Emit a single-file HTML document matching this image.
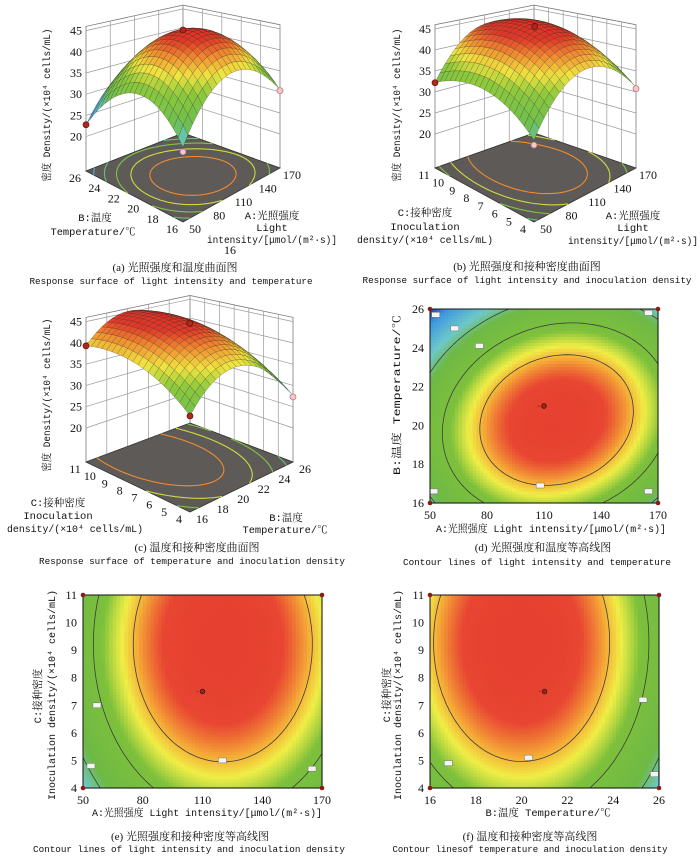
<!DOCTYPE html>
<html><head><meta charset="utf-8">
<style>
html,body{margin:0;padding:0;background:#fff;}
svg{display:block;}
.tk{font-family:"Liberation Serif","Noto Serif CJK SC",serif;font-size:12px;fill:#111;}
.ti{font-family:"Liberation Mono","Noto Serif CJK SC",monospace;font-size:10.5px;fill:#111;}
.cc{font-family:"Liberation Serif","Noto Serif CJK SC",serif;font-size:11px;fill:#111;}
.ce{font-family:"Liberation Mono","Noto Serif CJK SC",monospace;font-size:9.2px;fill:#111;}
</style></head>
<body>
<svg id="fig" width="700" height="857" viewBox="0 0 700 857" xmlns="http://www.w3.org/2000/svg">
<rect x="0" y="0" width="700" height="857" fill="#fff"/>

<text class="ti" x="50" y="105" text-anchor="middle" transform="rotate(-90 50 105)" textLength="153" lengthAdjust="spacingAndGlyphs">密度 Density/(×10⁴ cells/mL)</text>
<text class="ti" x="95" y="221" text-anchor="middle">B:温度</text>
<text class="ti" x="93" y="235" text-anchor="middle" textLength="85" lengthAdjust="spacingAndGlyphs">Temperature/℃</text>
<text class="ti" x="272" y="219" text-anchor="middle">A:光照强度</text>
<text class="ti" x="272" y="231" text-anchor="middle">Light</text>
<text class="ti" x="272" y="243" text-anchor="middle" textLength="130" lengthAdjust="spacingAndGlyphs">intensity/[μmol/(m²·s)]</text>
<text class="tk" x="230" y="254" text-anchor="middle">16</text>
<text class="cc" x="175" y="271" text-anchor="middle">(a) 光照强度和温度曲面图</text>
<text class="ce" x="171" y="284" text-anchor="middle" textLength="283" lengthAdjust="spacingAndGlyphs">Response surface of light intensity and temperature</text>

<text class="ti" x="400" y="105" text-anchor="middle" transform="rotate(-90 400 105)" textLength="153" lengthAdjust="spacingAndGlyphs">密度 Density/(×10⁴ cells/mL)</text>
<text class="ti" x="425" y="216" text-anchor="middle">C:接种密度</text>
<text class="ti" x="425" y="230" text-anchor="middle">Inoculation</text>
<text class="ti" x="425" y="243" text-anchor="middle" textLength="136" lengthAdjust="spacingAndGlyphs">density/(×10⁴ cells/mL)</text>
<text class="ti" x="633" y="219" text-anchor="middle">A:光照强度</text>
<text class="ti" x="633" y="231" text-anchor="middle">Light</text>
<text class="ti" x="633" y="244" text-anchor="middle" textLength="130" lengthAdjust="spacingAndGlyphs">intensity/[μmol/(m²·s)]</text>
<text class="cc" x="527" y="270" text-anchor="middle">(b) 光照强度和接种密度曲面图</text>
<text class="ce" x="527" y="283" text-anchor="middle" textLength="329" lengthAdjust="spacingAndGlyphs">Response surface of light intensity and inoculation density</text>

<text class="ti" x="50" y="395" text-anchor="middle" transform="rotate(-90 50 395)" textLength="153" lengthAdjust="spacingAndGlyphs">密度 Density/(×10⁴ cells/mL)</text>
<text class="ti" x="58" y="506" text-anchor="middle">C:接种密度</text>
<text class="ti" x="58" y="519" text-anchor="middle">Inoculation</text>
<text class="ti" x="75" y="532" text-anchor="middle" textLength="136" lengthAdjust="spacingAndGlyphs">density/(×10⁴ cells/mL)</text>
<text class="ti" x="286" y="521" text-anchor="middle">B:温度</text>
<text class="ti" x="285" y="533" text-anchor="middle" textLength="85" lengthAdjust="spacingAndGlyphs">Temperature/℃</text>
<text class="cc" x="197" y="551" text-anchor="middle">(c) 温度和接种密度曲面图</text>
<text class="ce" x="192" y="564" text-anchor="middle" textLength="306" lengthAdjust="spacingAndGlyphs">Response surface of temperature and inoculation density</text>

<text class="ti" x="400" y="395" text-anchor="middle" transform="rotate(-90 400 395)" textLength="160" lengthAdjust="spacingAndGlyphs">B:温度 Temperature/℃</text>
<text class="ti" x="551" y="532" text-anchor="middle" textLength="230" lengthAdjust="spacingAndGlyphs">A:光照强度 Light intensity/[μmol/(m²·s)]</text>
<text class="cc" x="543" y="551" text-anchor="middle">(d) 光照强度和温度等高线图</text>
<text class="ce" x="537" y="565" text-anchor="middle" textLength="268" lengthAdjust="spacingAndGlyphs">Contour lines of light intensity and temperature</text>

<text class="ti" x="41" y="696" text-anchor="middle" transform="rotate(-90 41 696)">C:接种密度</text>
<text class="ti" x="55" y="695" text-anchor="middle" transform="rotate(-90 55 695)" textLength="210" lengthAdjust="spacingAndGlyphs">Inoculation density/(×10⁴ cells/mL)</text>
<text class="ti" x="207" y="816" text-anchor="middle" textLength="230" lengthAdjust="spacingAndGlyphs">A:光照强度 Light intensity/[μmol/(m²·s)]</text>
<text class="cc" x="190" y="840" text-anchor="middle">(e) 光照强度和接种密度等高线图</text>
<text class="ce" x="189" y="852" text-anchor="middle" textLength="312" lengthAdjust="spacingAndGlyphs">Contour lines of light intensity and inoculation density</text>

<text class="ti" x="390" y="695" text-anchor="middle" transform="rotate(-90 390 695)">C:接种密度</text>
<text class="ti" x="401" y="695" text-anchor="middle" transform="rotate(-90 401 695)" textLength="210" lengthAdjust="spacingAndGlyphs">Inoculation density/(×10⁴ cells/mL)</text>
<text class="ti" x="548" y="816" text-anchor="middle" textLength="125" lengthAdjust="spacingAndGlyphs">B:温度 Temperature/℃</text>
<text class="cc" x="530" y="840" text-anchor="middle">(f) 温度和接种密度等高线图</text>
<text class="ce" x="530" y="852" text-anchor="middle" textLength="275" lengthAdjust="spacingAndGlyphs">Contour linesof temperature and inoculation density</text>
</svg>

<script>
// ---------- data ----------
const surfCoefA = [45.5, 1.125, -2.725, -0.525, -9.9, -9.5];
const surfCoefB = [46.2, 1.575, 2.125, 0.325, -9.6, -4.6];
const surfCoefC = [45.0, -2.575, 3.275, -0.575, -8.9, -3.2];
const contCoefD = [44.53, 2.886, -3.552, 3.0, -11.1, -11.1];
const contCoefE = [44.33, 3.332, 3.626, 0.0, -9.8, -3.7];
const contCoefF = [44.19, -3.72, 3.672, 0.0, -9.3, -3.6];
const floorLevels = [42, 38, 34, 30, 26];
const contourLevels = [40, 34, 27];
const zTicks = [20, 25, 30, 35, 40, 45];
const lightTicks = [50, 80, 110, 140, 170];
const tempTicks = [16, 18, 20, 22, 24, 26];
const inocTicks = [4, 5, 6, 7, 8, 9, 10, 11];
const designPtsA = [[0, 0, 45.5, 'r'], [-1, 1, 22.8, 'r'], [1, -1, 30.3, 'p'], [-1, -1, 26.2, 'p']];
const designPtsB = [[0, 0, 46.2, 'r'], [-1, 1, 32.2, 'r'], [1, -1, 30.8, 'p'], [-1, -1, 27.6, 'p']];
const designPtsC = [[0, 0, 45.0, 'r'], [-1, 1, 39.3, 'r'], [1, -1, 27.3, 'p'], [-1, -1, 31.6, 'r']];
const labelsD = [[52, 16.6], [53, 25.7], [63, 25], [76, 24.1], [108, 16.9], [165, 25.8], [165, 16.6]];
const labelsE = [[57, 7], [54, 4.8], [120, 5], [165, 4.7]];
const labelsF = [[16.8, 4.9], [20.3, 5.1], [25.3, 7.2], [25.8, 4.5]];
const centerD = [110, 21];
const centerE = [110, 7.5];
const centerF = [21, 7.5];

// ---------- colour scales ----------
const surfStops = [[22,[40,48,160]],[25,[74,160,216]],[28,[96,200,208]],[31,[110,190,80]],[36,[140,200,60]],[39,[240,228,64]],[42,[240,140,48]],[44.5,[224,56,40]],[50,[220,40,36]]];
const contStops = [[12,[30,40,150]],[17,[60,150,225]],[24.5,[110,200,200]],[28.5,[110,185,70]],[35.5,[125,192,60]],[38.5,[240,238,70]],[40.5,[245,170,55]],[43,[232,70,50]],[50,[226,52,46]]];

const NS = 'http://www.w3.org/2000/svg';
const root = document.getElementById('fig');
function mk(tag, attrs, parent) {
  const e = document.createElementNS(NS, tag);
  for (const k in attrs) e.setAttribute(k, attrs[k]);
  (parent || root).appendChild(e);
  return e;
}
function colorOf(z, stops) {
  if (z <= stops[0][0]) return 'rgb(' + stops[0][1].join(',') + ')';
  for (let i = 1; i < stops.length; i++) {
    if (z <= stops[i][0]) {
      const t = (z - stops[i-1][0]) / (stops[i][0] - stops[i-1][0]);
      const a = stops[i-1][1], b = stops[i][1];
      return 'rgb(' + [0,1,2].map(j => Math.round(a[j] + (b[j]-a[j])*t)).join(',') + ')';
    }
  }
  return 'rgb(' + stops[stops.length-1][1].join(',') + ')';
}
function evalModel(c, x, y) { return c[0] + c[1]*x + c[2]*y + c[3]*x*y + c[4]*x*x + c[5]*y*y; }

function contourSegs(coef, level, N) {
  const V = [];
  for (let i = 0; i <= N; i++) { V.push([]); for (let j = 0; j <= N; j++) V[i].push(evalModel(coef, -1 + 2*i/N, -1 + 2*j/N)); }
  const segs = [];
  const cx = i => -1 + 2*i/N;
  for (let i = 0; i < N; i++) for (let j = 0; j < N; j++) {
    const c = [[i,j],[i+1,j],[i+1,j+1],[i,j+1]];
    const pts = [];
    for (let k = 0; k < 4; k++) {
      const p = c[k], q = c[(k+1)%4];
      const va = V[p[0]][p[1]], vb = V[q[0]][q[1]];
      if ((va - level) * (vb - level) < 0) {
        const t = (level - va) / (vb - va);
        pts.push([cx(p[0] + (q[0]-p[0])*t), cx(p[1] + (q[1]-p[1])*t)]);
      }
    }
    if (pts.length >= 2) segs.push([pts[0][0], pts[0][1], pts[1][0], pts[1][1]]);
    if (pts.length === 4) segs.push([pts[2][0], pts[2][1], pts[3][0], pts[3][1]]);
  }
  return segs;
}

function draw3D(P) {
  const g = mk('g', {});
  
  
  function proj(u, v, z) {
    const fx = P.F[0]*(1-u)*(1-v) + P.R[0]*u*(1-v) + P.L[0]*(1-u)*v + P.K[0]*u*v;
    const fy = P.F[1]*(1-u)*(1-v) + P.R[1]*u*(1-v) + P.L[1]*(1-u)*v + P.K[1]*u*v;
    const k = P.kK + (P.kF - P.kK) * (fy - P.K[1]) / (P.F[1] - P.K[1]);
    return [fx, fy - (z - P.z0) * k];
  }
  const pstr = a => a.map(p => p[0].toFixed(1) + ',' + p[1].toFixed(1)).join(' ');
  const zTop = 46;
  const wl = mk('polygon', {points: pstr([proj(0,1,P.z0), proj(1,1,P.z0), proj(1,1,zTop), proj(0,1,zTop)]), fill: '#fff', stroke: '#777', 'stroke-width': 0.8}, g);
  
  
  const wr = mk('polygon', {points: pstr([proj(1,1,P.z0), proj(1,0,P.z0), proj(1,0,zTop), proj(1,1,zTop)]), fill: '#fff', stroke: '#777', 'stroke-width': 0.8}, g);
  
  
  for (const z of zTicks) {
    const ln = mk('polyline', {points: pstr([proj(0,1,z), proj(1,1,z), proj(1,0,z)]), fill: 'none', stroke: '#999', 'stroke-width': 0.7}, g);
    
    
    const p = proj(0,1,z);
    const t = mk('text', {x: p[0]-4, y: p[1]+4, 'text-anchor': 'end', class: 'tk'}, g);
    t.textContent = z;
    
    
  }
  for (const tv of P.rTicks) {
    const u = (tv - P.rTicks[0]) / (P.rTicks[P.rTicks.length-1] - P.rTicks[0]);
    const ln = mk('line', {x1: proj(u,1,P.z0)[0], y1: proj(u,1,P.z0)[1], x2: proj(u,1,zTop)[0], y2: proj(u,1,zTop)[1], stroke: '#999', 'stroke-width': 0.7}, g);
    
    
    const p = proj(u,0,P.z0);
    const t = mk('text', {x: p[0]+12, y: p[1]+11, 'text-anchor': 'middle', class: 'tk'}, g);
    t.textContent = tv;
    
    
  }
  for (const tv of P.lTicks) {
    const v = (tv - P.lTicks[0]) / (P.lTicks[P.lTicks.length-1] - P.lTicks[0]);
    const ln = mk('line', {x1: proj(1,v,P.z0)[0], y1: proj(1,v,P.z0)[1], x2: proj(1,v,zTop)[0], y2: proj(1,v,zTop)[1], stroke: '#999', 'stroke-width': 0.7}, g);
    
    
    const p = proj(0,v,P.z0);
    const t = mk('text', {x: p[0]-11, y: p[1]+11, 'text-anchor': 'middle', class: 'tk'}, g);
    t.textContent = tv;
    
    
  }
  const fl = mk('polygon', {points: pstr([proj(0,0,P.z0), proj(1,0,P.z0), proj(1,1,P.z0), proj(0,1,P.z0)]), fill: '#5e5a58', stroke: '#333', 'stroke-width': 0.8}, g);
  
  
  for (const lev of floorLevels) {
    const segs = contourSegs(P.coef, lev, 40);
    if (!segs.length) continue;
    let d = '';
    for (const s of segs) {
      const a = proj((s[0]+1)/2, (s[1]+1)/2, P.z0), b = proj((s[2]+1)/2, (s[3]+1)/2, P.z0);
      d += 'M' + a[0].toFixed(1) + ',' + a[1].toFixed(1) + 'L' + b[0].toFixed(1) + ',' + b[1].toFixed(1);
    }
    const pth = mk('path', {d: d, fill: 'none', stroke: colorOf(lev, surfStops), 'stroke-width': 1.1}, g);
    
    
  }
  const N = 20, quads = [];
  for (let i = 0; i < N; i++) for (let j = 0; j < N; j++) quads.push([i, j]);
  quads.sort((a, b) => (b[0] + b[1]) - (a[0] + a[1]));
  const sg = mk('g', {}, g);
  
  
  for (const q of quads) {
    const cs = [[q[0],q[1]],[q[0]+1,q[1]],[q[0]+1,q[1]+1],[q[0],q[1]+1]];
    let zs = 0;
    const pts = cs.map(c => {
      const u = c[0]/N, v = c[1]/N;
      const z = evalModel(P.coef, 2*u-1, 2*v-1);
      zs += z;
      return proj(u, v, z);
    });
    const poly = mk('polygon', {points: pstr(pts), fill: colorOf(zs/4, surfStops), stroke: 'rgba(30,30,30,0.45)', 'stroke-width': 0.45}, sg);
    
    
  }
  for (const dp of P.pts) {
    const p = proj((dp[0]+1)/2, (dp[1]+1)/2, dp[2]);
    const c = mk('circle', {cx: p[0], cy: p[1], r: 3, fill: dp[3] === 'r' ? '#b3261e' : '#f7c6c8', stroke: dp[3] === 'r' ? '#5a0f0a' : '#b07070', 'stroke-width': 0.7}, g);
    
    
  }
}

draw3D({name: 'a', coef: surfCoefA, F: [183,222], R: [280,168], K: [183,133], L: [86,171], kF: 4.9, kK: 3.75, z0: 11.9, rTicks: lightTicks, lTicks: tempTicks, pts: designPtsA});
draw3D({name: 'b', coef: surfCoefB, F: [534,222], R: [636,168], K: [534,133], L: [435,168], kF: 4.9, kK: 3.75, z0: 11.9, rTicks: lightTicks, lTicks: inocTicks, pts: designPtsB});
draw3D({name: 'c', coef: surfCoefC, F: [190,512], R: [293,462], K: [190,423], L: [86,462], kF: 4.9, kK: 3.75, z0: 12, rTicks: tempTicks, lTicks: inocTicks, pts: designPtsC});

function drawContour(P) {
  const g = mk('g', {});
  
  
  const W = P.x1 - P.x0, H = P.y1 - P.y0;
  const sx = v => P.x0 + (v - P.xmin) / (P.xmax - P.xmin) * W;
  const sy = v => P.y1 - (v - P.ymin) / (P.ymax - P.ymin) * H;
  const M = 64;
  const hm = mk('g', {}, g);
  
  
  for (let i = 0; i < M; i++) for (let j = 0; j < M; j++) {
    const x = -1 + (i + 0.5) * 2 / M, y = -1 + (j + 0.5) * 2 / M;
    const z = evalModel(P.coef, x, y);
    const r = mk('rect', {x: (P.x0 + i*W/M).toFixed(2), y: (P.y1 - (j+1)*H/M).toFixed(2), width: (W/M + 0.6).toFixed(2), height: (H/M + 0.6).toFixed(2), fill: colorOf(z, contStops)}, hm);
    
    
  }
  for (const lev of contourLevels) {
    const segs = contourSegs(P.coef, lev, 60);
    let d = '';
    for (const s of segs) d += 'M' + (P.x0 + (s[0]+1)/2*W).toFixed(1) + ',' + (P.y1 - (s[1]+1)/2*H).toFixed(1) + 'L' + (P.x0 + (s[2]+1)/2*W).toFixed(1) + ',' + (P.y1 - (s[3]+1)/2*H).toFixed(1);
    if (!d) continue;
    const pth = mk('path', {d: d, fill: 'none', stroke: '#3c3c3c', 'stroke-width': 0.8}, g);
    
    
  }
  for (const lb of P.labels) {
    const r = mk('rect', {x: sx(lb[0]) - 4, y: sy(lb[1]) - 2.5, width: 8, height: 5, fill: '#f4f4f4', stroke: '#777', 'stroke-width': 0.5}, g);
    
    
  }
  const fr = mk('rect', {x: P.x0, y: P.y0, width: W, height: H, fill: 'none', stroke: '#111', 'stroke-width': 1}, g);
  
  
  for (const c of [[P.xmin,P.ymin],[P.xmin,P.ymax],[P.xmax,P.ymin],[P.xmax,P.ymax]]) {
    const d = mk('circle', {cx: sx(c[0]), cy: sy(c[1]), r: 2.3, fill: '#8a1a14'}, g);
    
    
  }
  const cp = mk('circle', {cx: sx(P.center[0]), cy: sy(P.center[1]), r: 2.4, fill: '#8a2a20', stroke: '#3a0a08', 'stroke-width': 0.6}, g);
  
  
  const cd = mk('circle', {cx: sx(P.center[0]) - 5, cy: sy(P.center[1]), r: 0.8, fill: '#8a2a20'}, g);
  
  
  for (const tv of P.xticks) {
    const t = mk('text', {x: sx(tv), y: P.y1 + 16, 'text-anchor': 'middle', class: 'tk'}, g);
    t.textContent = tv;
    
    
  }
  for (const tv of P.yticks) {
    const t = mk('text', {x: P.x0 - 6, y: sy(tv) + 4, 'text-anchor': 'end', class: 'tk'}, g);
    t.textContent = tv;
    
    
  }
}
drawContour({name: 'd', coef: contCoefD, x0: 430, x1: 658, y0: 309, y1: 503, xmin: 50, xmax: 170, ymin: 16, ymax: 26, xticks: lightTicks, yticks: tempTicks, labels: labelsD, center: centerD});
drawContour({name: 'e', coef: contCoefE, x0: 83, x1: 322, y0: 595, y1: 788, xmin: 50, xmax: 170, ymin: 4, ymax: 11, xticks: lightTicks, yticks: inocTicks, labels: labelsE, center: centerE});
drawContour({name: 'f', coef: contCoefF, x0: 430, x1: 659, y0: 595, y1: 788, xmin: 16, xmax: 26, ymin: 4, ymax: 11, xticks: tempTicks, yticks: inocTicks, labels: labelsF, center: centerF});
</script>
</body></html>
